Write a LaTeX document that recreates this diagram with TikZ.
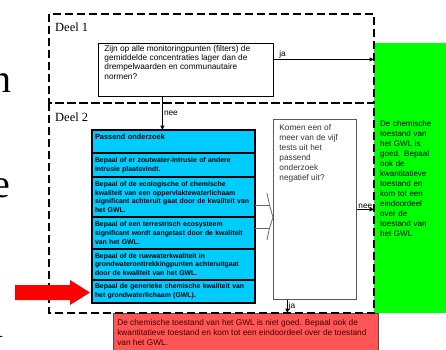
\documentclass[tikz,border=0pt]{standalone}
\usepackage{fontspec}
\setmainfont{Liberation Sans}
\newfontfamily\deelfont{Liberation Serif}
\usetikzlibrary{positioning,arrows.meta,calc}
\definecolor{onderzoekblauw}{RGB}{0,204,255}
\definecolor{goedgroen}{RGB}{0,255,0}
\definecolor{nietgoedrood}{RGB}{255,85,85}
\definecolor{pijlrood}{RGB}{255,0,0}
\newcommand{\bovenin}[3]{\parbox[t][#2][t]{#1}{\raggedright #3}}

\tikzset{
  deelkader/.style={black, line width=2.7pt, dash pattern=on 8pt off 4pt},
  deellabel/.style={font=\deelfont\fontsize{12.5}{14}\selectfont, anchor=west, inner sep=0pt},
  vraagbox/.style={draw=black, line width=0.8pt, fill=white, anchor=north west, inner xsep=6pt, inner ysep=2pt, font=\fontsize{8.3}{9.2}\selectfont},
  toetsbox/.style={draw=black!65, line width=0.8pt, fill=white, anchor=north west, inner xsep=6pt, inner ysep=5pt, text=black!80, font=\fontsize{8.3}{10}\selectfont},
  testbox/.style={draw=black, line width=1.1pt, fill=onderzoekblauw, outer sep=0pt, minimum width=163pt, text width=157pt, inner xsep=3pt, align=left, font=\bfseries\fontsize{6.9}{8.7}\selectfont},
  goedbox/.style={fill=goedgroen, anchor=north west, minimum width=72pt, minimum height=270pt, text width=60pt, inner xsep=6pt, align=left, font=\fontsize{8}{10}\selectfont},
  nietgoedbox/.style={draw=black!70, line width=0.6pt, fill=nietgoedrood, anchor=north west, inner xsep=4pt, inner ysep=6pt, text=black!75!red, font=\fontsize{8.3}{10}\selectfont},
  pijl/.style={line width=1pt, -{Triangle[length=4.5pt,width=4pt]}},
  pijllabel/.style={font=\fontsize{8.3}{9}\selectfont, inner sep=1pt},
  haak/.style={draw=black!60, line width=0.8pt},
  randletter/.style={font=\deelfont\fontsize{40}{40}\selectfont, anchor=base east, inner sep=0pt}
}

\begin{document}
\begin{tikzpicture}[x=1pt,y=-1pt]
\useasboundingbox (0,0) rectangle (446,349);

% afgesneden letters van de dia ernaast
\node[randletter] (randn) at (12,92) {n};
\node[randletter] (rande) at (10,197) {e};
\node[randletter] (randl) at (4,337) {l};

% eindoordelen
\node[goedbox] (goed) at (374,43) {De chemische\\toestand van\\het GWL is\\goed. Bepaal\\ook de\\kwantitatieve\\toestand en\\kom tot een\\eindoordeel\\over de\\toestand van\\het GWL};
\node[nietgoedbox] (nietgoed) at (113,313) {\bovenin{257pt}{36pt}{De chemische toestand van het GWL is niet goed. Bepaal ook de\\kwantitatieve toestand en kom tot een eindoordeel over de toestand\\van het GWL.}};

% deel 1 en deel 2
\draw[deelkader] (49,14) rectangle (374,103);
\draw[deelkader] (49,103) rectangle (374,313);
\node[deellabel] (deel1) at (55,27) {Deel 1};
\node[deellabel] (deel2) at (55,117) {Deel 2};

\node[vraagbox] (vraag) at (98,43) {\bovenin{163pt}{49pt}{Zijn op alle monitoringpunten (filters) de\\gemiddelde concentraties lager dan de\\drempelwaarden en communautaire\\normen?}};

% passend onderzoek
\node[testbox, anchor=north west, minimum height=23pt, font=\bfseries\fontsize{7.4}{8.7}\selectfont] (kop) at (92,130) {Passend onderzoek\\ \mbox{}};
\node[testbox, minimum height=24pt, below=0pt of kop] (zout) {Bepaal of er zoutwater-intrusie of andere\\intrusie plaatsvindt.};
\node[testbox, minimum height=40pt, below=0pt of zout] (eco) {Bepaal of de ecologische of chemische\\kwaliteit van een oppervlaktewaterlichaam\\significant achteruit gaat door de kwaliteit van\\het GWL.};
\node[testbox, minimum height=32pt, below=0pt of eco] (terr) {Bepaal of een terrestrisch ecosysteem\\significant wordt aangetast door de kwaliteit\\van het GWL.};
\node[testbox, minimum height=31pt, below=0pt of terr] (ruw) {Bepaal of de ruwwaterkwaliteit in\\grondwateronttrekkingpunten achteruitgaat\\door de kwaliteit van het GWL.};
\node[testbox, minimum height=23pt, below=0pt of ruw] (gen) {Bepaal de generieke chemische kwaliteit van\\het grondwaterlichaam (GWL).};

\node[toetsbox] (toets) at (273,119) {\bovenin{71pt}{170pt}{Komen een of\\meer van de vijf\\tests uit het\\passend\\onderzoek\\negatief uit?}};

% haak tussen de tests en de vraag
\coordinate (haakpunt) at ([yshift=-8pt]toets.west);
\draw[haak] ([yshift=-8pt]eco.east) -- ++(14,0);
\draw[haak] ([yshift=5pt]terr.east) -- ++(14,0);
\draw[haak] (267,193) -- (269.5,205) -- (haakpunt) -- (269.5,228) -- (267,240);

% pijlen
\draw[pijl] ([yshift=10.5pt]vraag.east) -- ([yshift=10.5pt]vraag.east -| goed.west) node[pijllabel, above right, pos=0, xshift=4pt] {ja};
\draw[pijl, line width=1.2pt] ([xshift=-23.5pt]vraag.south) -- ([xshift=-23.5pt]vraag.south |- kop.north) node[pijllabel, right, midway] {nee};
\draw[pijl] (toets.east) -- (toets.east -| goed.west) node[pijllabel, above, midway, inner sep=0.3pt] {nee};
\draw[pijl] ([xshift=-27.5pt]toets.south) -- ([xshift=-27.5pt]toets.south |- nietgoed.north) node[pijllabel, right, midway] {ja};

% rode aanwijspijl
\fill[pijlrood] (15,285) -- (70,285) -- (70,280) -- (90,292.5) -- (70,305) -- (70,300) -- (15,300) -- cycle;
\end{tikzpicture}
\end{document}
